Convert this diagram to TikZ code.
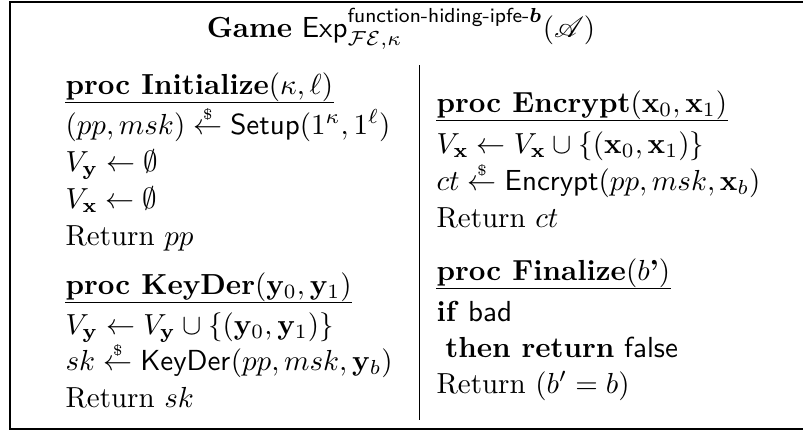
\documentclass[tikz,border=0pt]{standalone}
\usepackage{amsmath,amssymb}
\usepackage{mathrsfs}
\usepackage{bm}
\newcommand{\sampleArrow}{\mathrel{\overset{\raisebox{-2pt}{\tiny\$}}{\leftarrow}}}
\begin{document}
\begin{tikzpicture}[x=0.3448pt, y=-0.3448pt,
% common options for the title:
gametitle/.style = {anchor=base, inner sep=0},
% common options for procedure headers and lines:
prochead/.style = {anchor=base west, inner sep=0, font=\bfseries},
stmt/.style = {anchor=base west, inner sep=0}]
\useasboundingbox (0,0) rectangle (803,432);
\draw (10,2) rectangle (812,429);
\draw[line width=0.3pt] (419.5,65) -- (419.5,420);
\node[gametitle] (T0) at (401,37) {\textbf{Game} $\mathsf{Exp}^{\textsf{function-hiding-ipfe-}\bm{b}}_{\mathcal{FE},\kappa}(\mathscr{A})$};
% left column
\node[prochead] (A0) at (65,94) {proc Initialize$(\kappa,\ell)$};
\node[stmt] (A1) at (65,134) {$(pp, msk) \sampleArrow \mathsf{Setup}(1^\kappa, 1^\ell)$};
\node[stmt] (A2) at (65,171) {$V_{\mathbf{y}} \leftarrow \emptyset$};
\node[stmt] (A3) at (65,208) {$V_{\mathbf{x}} \leftarrow \emptyset$};
\node[stmt] (A4) at (65,245) {Return $pp$};
\node[prochead] (B0) at (65,294) {proc KeyDer$(\mathbf{y}_0,\mathbf{y}_1)$};
\node[stmt] (B1) at (65,334) {$V_{\mathbf{y}} \leftarrow V_{\mathbf{y}} \cup \{(\mathbf{y}_0,\mathbf{y}_1)\}$};
\node[stmt] (B2) at (65,370) {$sk \sampleArrow \mathsf{KeyDer}(pp, msk, \mathbf{y}_b)$};
\node[stmt] (B3) at (65,407) {Return $sk$};
% right column
\node[prochead] (C0) at (436,112) {proc Encrypt$(\mathbf{x}_0,\mathbf{x}_1)$};
\node[stmt] (C1) at (436,153) {$V_{\mathbf{x}} \leftarrow V_{\mathbf{x}} \cup \{(\mathbf{x}_0,\mathbf{x}_1)\}$};
\node[stmt] (C2) at (436,190) {$ct \sampleArrow \mathsf{Encrypt}(pp, msk, \mathbf{x}_b)$};
\node[stmt] (C3) at (436,227) {Return $ct$};
\node[prochead] (D0) at (436,280) {proc Finalize$(b$'$)$};
\node[stmt] (D1) at (436,321) {\textbf{if} \textsf{bad}};
\node[stmt] (D2) at (436,357) {\hspace{3pt}\textbf{then return} \textsf{false}};
\node[stmt] (D3) at (436,393) {Return $(b' = b)$};
% underlines of the headers
\draw ([yshift=-3pt]A0.base west) -- ([yshift=-3pt]A0.base east);
\draw ([yshift=-3pt]B0.base west) -- ([yshift=-3pt]B0.base east);
\draw ([yshift=-3pt]C0.base west) -- ([yshift=-3pt]C0.base east);
\draw ([yshift=-3pt]D0.base west) -- ([yshift=-3pt]D0.base east);
\end{tikzpicture}
\end{document}
